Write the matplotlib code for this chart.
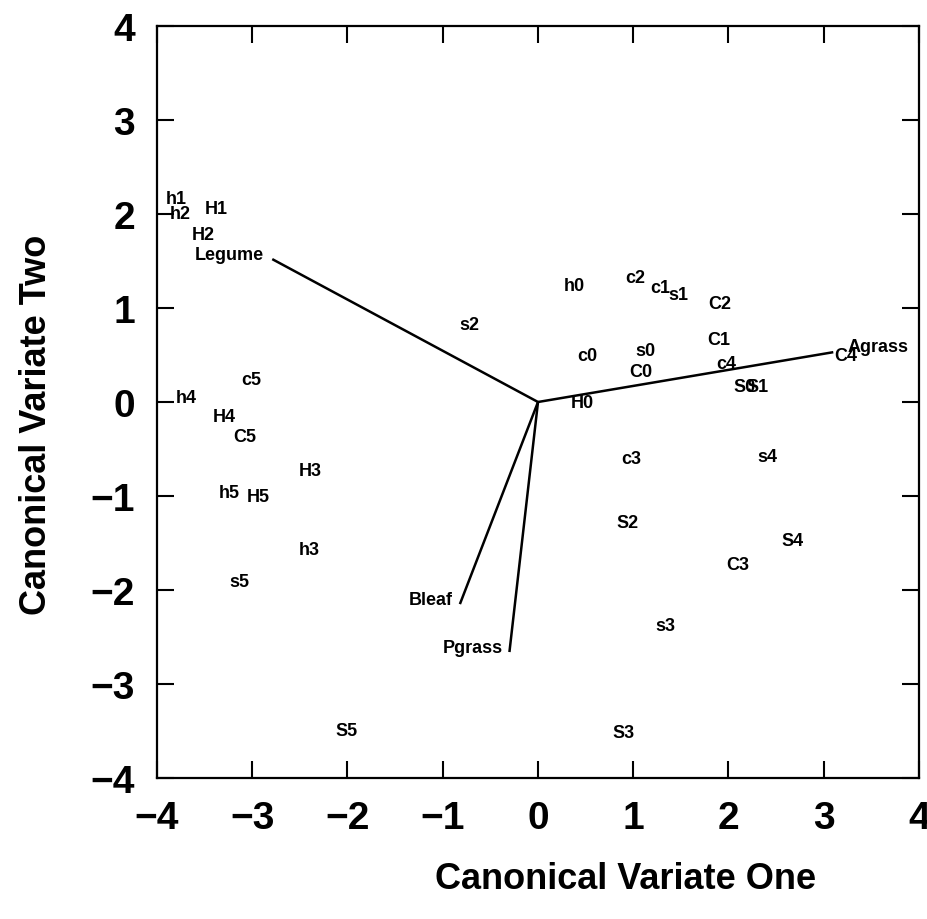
import matplotlib
matplotlib.use("Agg")
import matplotlib.pyplot as plt

plt.rcParams['font.family'] = ['Liberation Sans', 'DejaVu Sans']
plt.rcParams['font.weight'] = 'bold'

# Site/plot labels and canonical scores
point_labels = ['h0', 'h1', 'h2', 'h3', 'h4', 'h5',
                'H0', 'H1', 'H2', 'H3', 'H4', 'H5',
                'c0', 'c1', 'c2', 'c3', 'c4', 'c5',
                'C0', 'C1', 'C2', 'C3', 'C4', 'C5',
                's0', 's1', 's2', 's3', 's4', 's5',
                'S0', 'S1', 'S2', 'S3', 'S4', 'S5']
point_x = [0.38, -3.80, -3.76, -2.40, -3.69, -3.24,
           0.46, -3.38, -3.51, -2.39, -3.29, -2.94,
           0.52, 1.28, 1.02, 0.98, 1.98, -3.01,
           1.08, 1.90, 1.91, 2.10, 3.23, -3.08,
           1.13, 1.47, -0.72, 1.34, 2.41, -3.14,
           2.17, 2.30, 0.94, 0.90, 2.67, -2.01]
point_y = [1.24, 2.16, 2.01, -1.57, 0.05, -0.96,
           -0.01, 2.06, 1.78, -0.73, -0.15, -1.01,
           0.49, 1.22, 1.32, -0.60, 0.41, 0.24,
           0.32, 0.66, 1.05, -1.73, 0.49, -0.37,
           0.55, 1.14, 0.82, -2.38, -0.58, -1.91,
           0.17, 0.17, -1.28, -3.52, -1.47, -3.50]

# Biplot vectors (habitat variables)
vector_names = ['Legume', 'Agrass', 'Bleaf', 'Pgrass']
vector_x = [-2.79, 3.10, -0.82, -0.30]
vector_y = [1.52, 0.53, -2.15, -2.66]

ticks = [-4, -3, -2, -1, 0, 1, 2, 3, 4]

fig = plt.figure(figsize=(9.28, 9.20), dpi=100)
ax = fig.add_axes([157/928, 1-779/920, 762/928, 752/920])

for vx, vy in zip(vector_x, vector_y):
    ax.plot([0, vx], [0, vy], color='black', lw=1.8, solid_capstyle='butt')

vec_style = {
    'Legume': dict(xytext=(-6, 3), ha='right'),
    'Agrass': dict(xytext=(10, 4), ha='left'),
    'Bleaf': dict(xytext=(-5, 3), ha='right'),
    'Pgrass': dict(xytext=(-5, 3), ha='right'),
}
for name, vx, vy in zip(vector_names, vector_x, vector_y):
    st = vec_style[name]
    ax.annotate(name, (vx, vy), xytext=st['xytext'], textcoords='offset points',
                ha=st['ha'], va='center', fontsize=13, fontweight='bold')

for lab, px, py in zip(point_labels, point_x, point_y):
    ax.text(px, py, lab, ha='center', va='center', fontsize=13, fontweight='bold')

ax.set_xlim(-4, 4)
ax.set_ylim(-4, 4)
ax.set_xticks(ticks)
ax.set_yticks(ticks)
ax.tick_params(direction='in', length=12, width=1.5, top=True, right=True,
               labelsize=28, pad=16)
for lbl in ax.get_xticklabels() + ax.get_yticklabels():
    lbl.set_fontweight('bold')
for sp in ax.spines.values():
    sp.set_linewidth(1.6)

fig.text(626/928, 1-880/920, 'Canonical Variate One', ha='center', va='center',
         fontsize=26, fontweight='bold')
fig.text(37/928, 1-425/920, 'Canonical Variate Two', ha='center', va='center',
         rotation=90, fontsize=26, fontweight='bold')

fig.savefig('out.png', dpi=100)
